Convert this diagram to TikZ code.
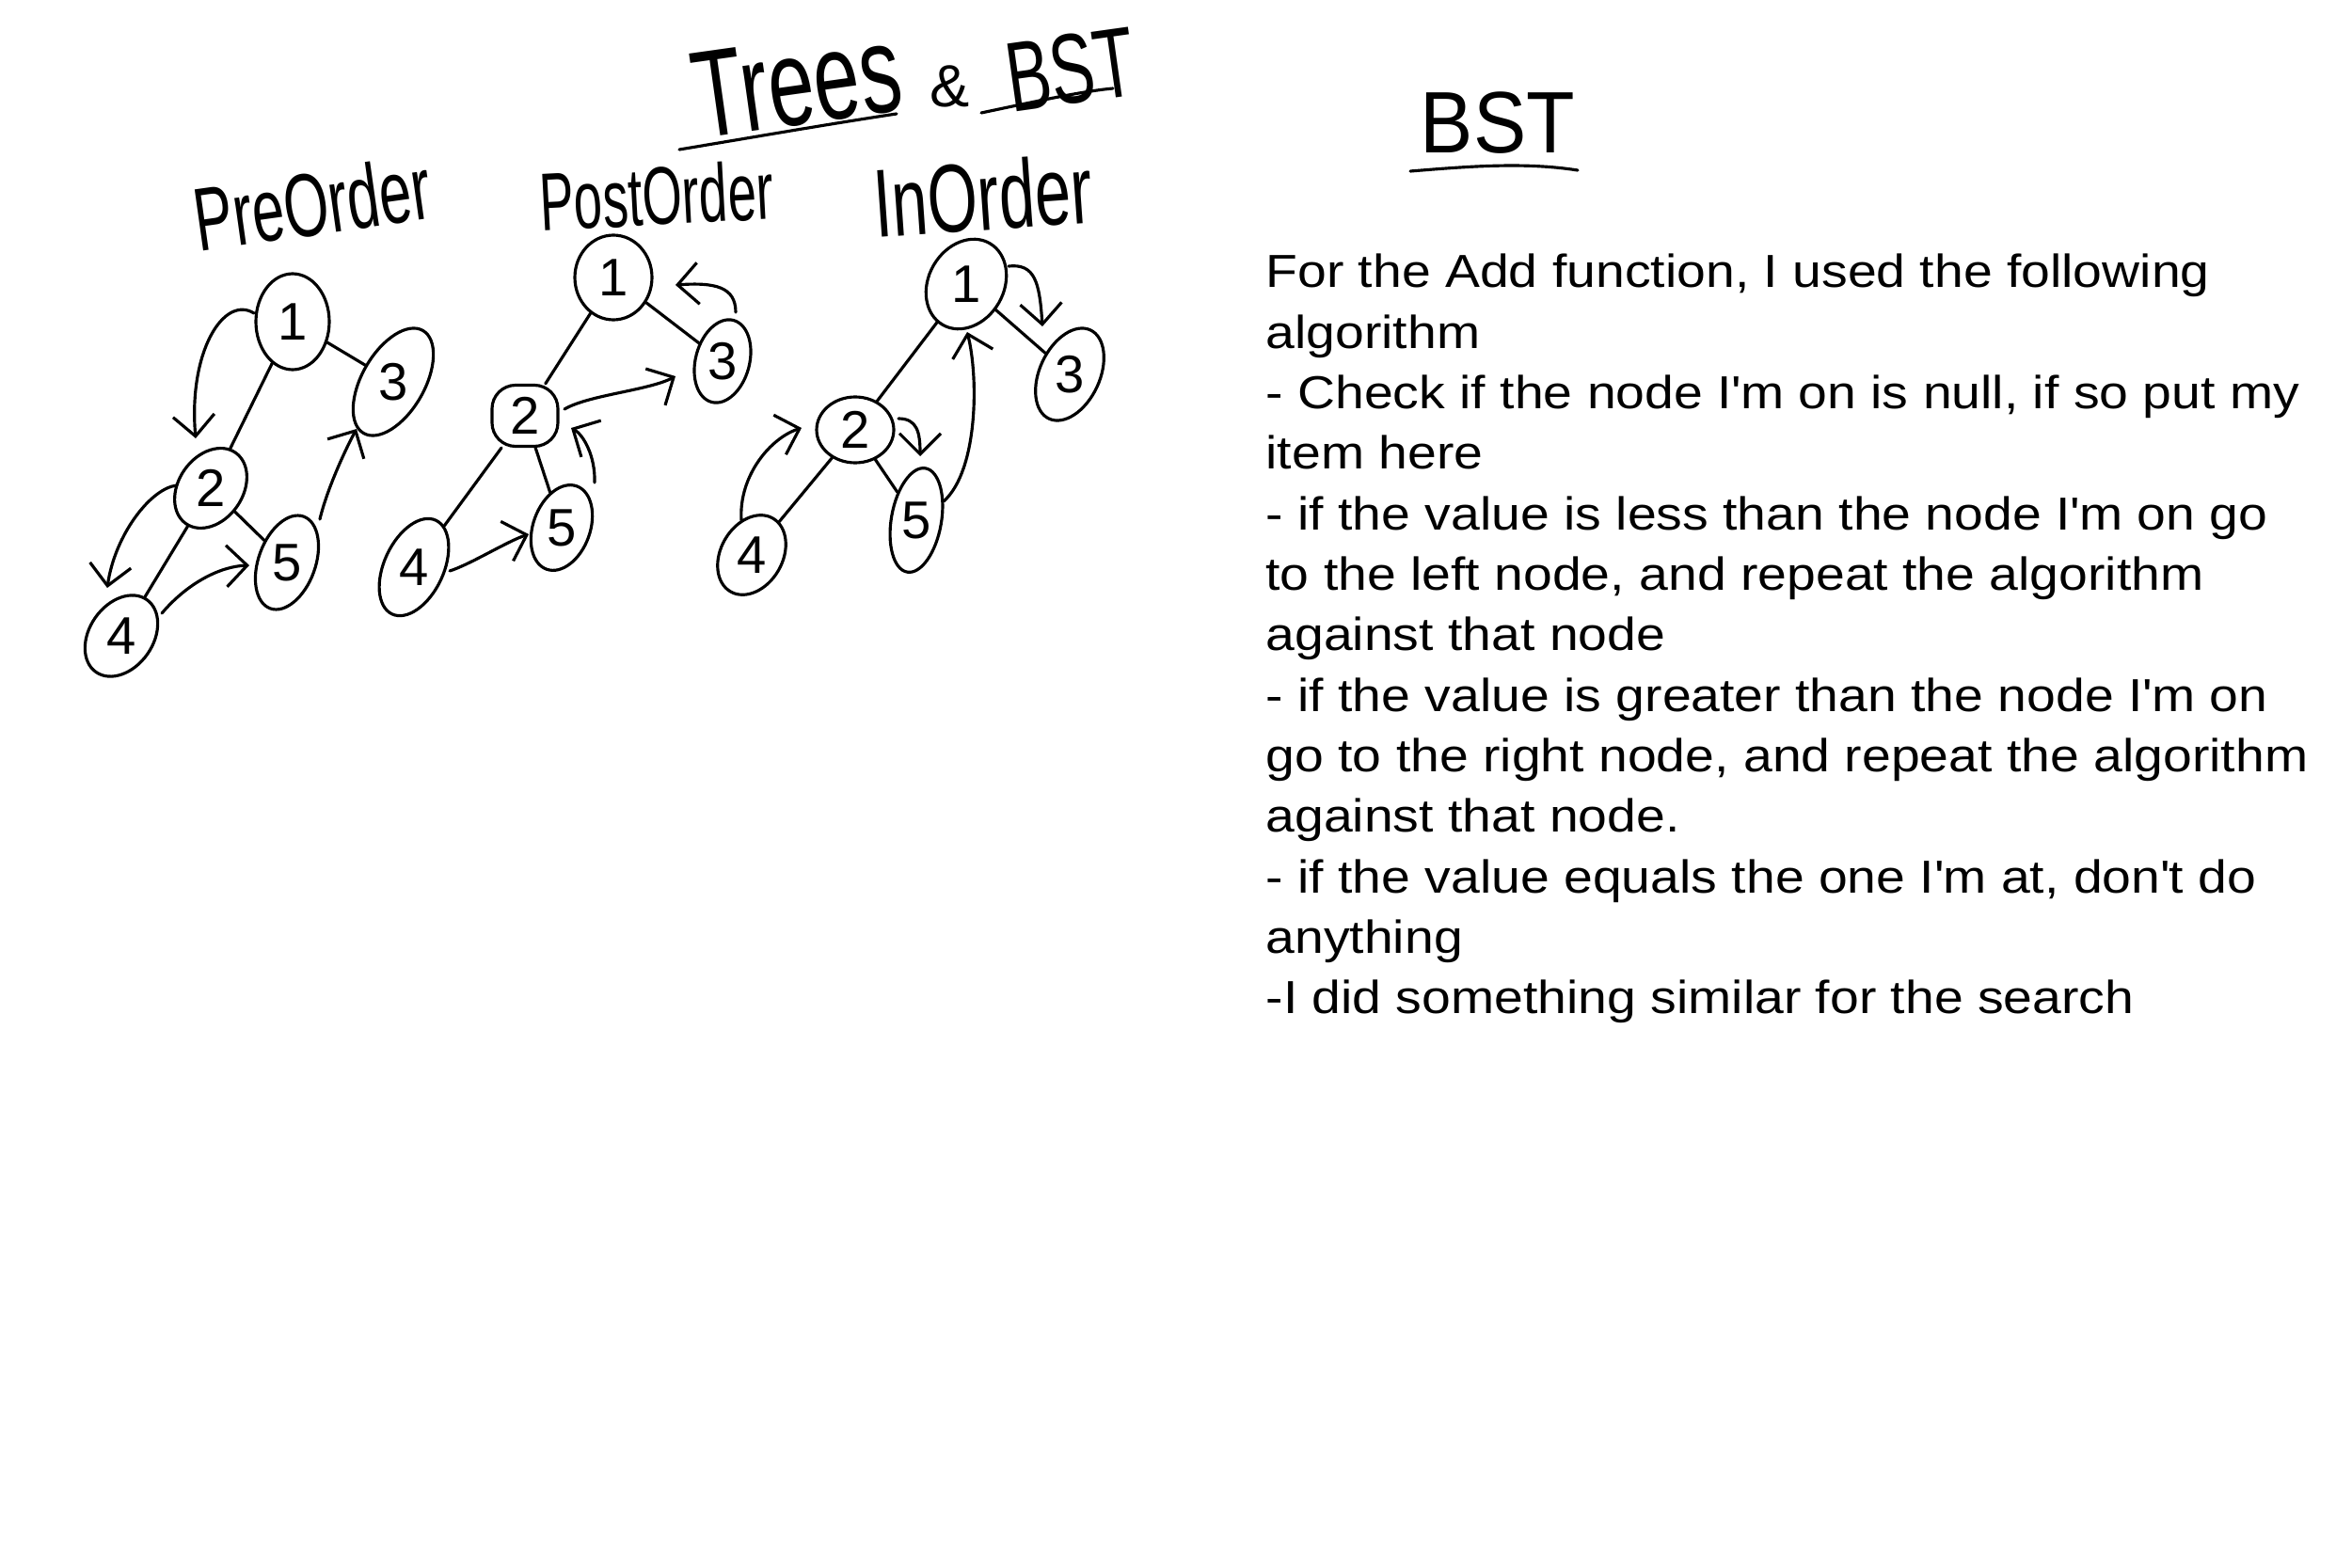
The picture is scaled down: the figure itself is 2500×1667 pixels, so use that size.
\documentclass[tikz,border=0pt]{standalone}
\usepackage{fontspec}
\usepackage{graphicx}
\setmainfont{Liberation Sans}
\newfontfamily\bodyfont[FakeStretch=1.125]{Liberation Sans}
\usetikzlibrary{shapes.geometric,arrows.meta}
\newcommand{\tallbox}[2]{\scalebox{1}[#1]{#2}}
\newcommand{\ap}{\textquotesingle}
\begin{document}
\begin{tikzpicture}[x=0.1mm,y=-0.1mm,line width=0.9pt,line cap=round,line join=round,
  tn/.style={draw,ellipse,inner sep=0pt,font=\fontsize{16}{16}\selectfont},
  tr/.style={draw,rectangle,rounded corners=2.5mm,inner sep=0pt,font=\fontsize{16}{16}\selectfont},
  trav/.style={-{Straight Barb[length=2.2mm,width=4.4mm]}},
  hand/.style={inner sep=0pt},
  txtline/.style={anchor=base west,inner sep=0pt,font=\bodyfont\fontsize{14}{18}\selectfont}]
\fill[white] (0,0) rectangle (2500,1667);
\useasboundingbox (0,0) rectangle (2500,1667);

% titles
\node[hand,rotate=8,font=\fontsize{25}{25}\selectfont] (trees) at (847,88) {\tallbox{1.5}{Trees}};
\node[hand,font=\fontsize{18}{18}\selectfont] (amp) at (1010,92) {\&};
\node[hand,rotate=8,font=\fontsize{20}{20}\selectfont] (bstA) at (1138,74) {\tallbox{1.5}{BST}};
\draw (722,159) .. controls (800,146) and (880,132) .. (953,121);
\draw (1043,120) .. controls (1100,108) and (1150,97) .. (1183,94);
\node[hand,font=\fontsize{24}{24}\selectfont] (bstB) at (1592,131) {\tallbox{1.1}{BST}};
\draw (1499,182) .. controls (1560,177) and (1620,172) .. (1677,181);

\node[hand,rotate=8,font=\fontsize{17.5}{17.5}\selectfont] (pre) at (332,216) {\tallbox{1.55}{PreOrder}};
\node[hand,rotate=3,font=\fontsize{15.5}{15.5}\selectfont] (post) at (698,208) {\tallbox{1.6}{PostOrder}};
\node[hand,rotate=4,font=\fontsize{19.5}{19.5}\selectfont] (inord) at (1045,208) {\tallbox{1.5}{InOrder}};

% PreOrder tree
\node[tn,minimum width=7.8mm,minimum height=10.2mm] (a1) at (311,342) {1};
\node[tn,minimum width=6.2mm,minimum height=12.6mm,rotate=-30] (a3) at (418,406) {\rotatebox{30}{3}};
\node[tn,minimum width=6.4mm,minimum height=9.2mm,rotate=-35] (a2) at (224,519) {\rotatebox{35}{2}};
\node[tn,minimum width=5mm,minimum height=10.4mm,rotate=-20] (a5) at (305,598) {\rotatebox{20}{5}};
\node[tn,minimum width=5.8mm,minimum height=9.4mm,rotate=-35] (a4) at (129,676) {\rotatebox{35}{4}};
\draw (a1) -- (a2);
\draw (a1) -- (a3);
\draw (a2) -- (a4);
\draw (a2) -- (a5);
\coordinate (pa1) at (270,333);
\coordinate (pa2) at (208,466);
\draw[trav] (pa1) .. controls (238,313) and (200,374) .. (pa2);
\coordinate (pb1) at (188,516);
\coordinate (pb2) at (114,625);
\draw[trav] (pb1) .. controls (160,519) and (122,569) .. (pb2);
\coordinate (pc1) at (172,652);
\coordinate (pc2) at (265,601);
\draw[trav] (pc1) .. controls (200,619) and (235,602) .. (pc2);
\coordinate (pd1) at (340,552);
\coordinate (pd2) at (379,456);
\draw[trav] (pd1) .. controls (347,522) and (366,480) .. (pd2);

% PostOrder tree
\node[tn,minimum width=8.2mm,minimum height=9mm] (b1) at (652,295) {1};
\node[tn,minimum width=4.2mm,minimum height=9mm,rotate=-15] (b3) at (768,384) {\rotatebox{15}{3}};
\node[tr,minimum width=7mm,minimum height=6.5mm] (b2) at (558,442) {2};
\node[tn,minimum width=5mm,minimum height=9.4mm,rotate=-20] (b5) at (597,561) {\rotatebox{20}{5}};
\node[tn,minimum width=6mm,minimum height=11mm,rotate=-25] (b4) at (440,603) {\rotatebox{25}{4}};
\draw (b1) -- (b2);
\draw (b1) -- (b3);
\draw (b2) -- (b4);
\draw (b2) -- (b5);
\coordinate (qa1) at (478,607);
\coordinate (qa2) at (562,568);
\draw[trav] (qa1) .. controls (500,600) and (540,575) .. (qa2);
\coordinate (qb1) at (632,513);
\coordinate (qb2) at (607,455);
\draw[trav] (qb1) .. controls (633,485) and (620,462) .. (qb2);
\coordinate (qc1) at (600,435);
\coordinate (qc2) at (718,400);
\draw[trav] (qc1) .. controls (625,420) and (690,415) .. (qc2);
\coordinate (qd1) at (782,332);
\coordinate (qd2) at (718,303);
\draw[trav] (qd1) .. controls (782,305) and (760,300) .. (qd2);

% InOrder tree
\node[tn,minimum width=8mm,minimum height=10mm,rotate=-30] (c1) at (1027,302) {\rotatebox{30}{1}};
\node[tn,minimum width=5.4mm,minimum height=10.4mm,rotate=-25] (c3) at (1137,398) {\rotatebox{25}{3}};
\node[tn,minimum width=8.2mm,minimum height=7mm] (c2) at (909,457) {2};
\node[tn,minimum width=4.8mm,minimum height=11.2mm,rotate=-10] (c5) at (974,553) {\rotatebox{10}{5}};
\node[tn,minimum width=5.6mm,minimum height=9mm,rotate=-30] (c4) at (799,590) {\rotatebox{30}{4}};
\draw (c1) -- (c2);
\draw (c1) -- (c3);
\draw (c2) -- (c4);
\draw (c2) -- (c5);
\coordinate (ra1) at (788,553);
\coordinate (ra2) at (852,455);
\draw[trav] (ra1) .. controls (785,505) and (820,465) .. (ra2);
\coordinate (rb1) at (955,445);
\coordinate (rb2) at (978,485);
\draw[trav] (rb1) .. controls (975,445) and (978,460) .. (rb2);
\coordinate (rc1) at (1003,533);
\coordinate (rc2) at (1028,353);
\draw[trav] (rc1) .. controls (1040,500) and (1040,400) .. (rc2);
\coordinate (rd1) at (1072,283);
\coordinate (rd2) at (1108,347);
\draw[trav] (rd1) .. controls (1100,280) and (1105,300) .. (rd2);

% text block
\node[txtline] (l1) at (1344,306.0) {For the Add function, I used the following};
\node[txtline] (l2) at (1344,370.3) {algorithm};
\node[txtline] (l3) at (1344,434.6) {- Check if the node I\ap m on is null, if so put my};
\node[txtline] (l4) at (1344,498.9) {item here};
\node[txtline] (l5) at (1344,563.2) {- if the value is less than the node I\ap m on go};
\node[txtline] (l6) at (1344,627.5) {to the left node, and repeat the algorithm};
\node[txtline] (l7) at (1344,691.8) {against that node};
\node[txtline] (l8) at (1344,756.1) {- if the value is greater than the node I\ap m on};
\node[txtline] (l9) at (1344,820.4) {go to the right node, and repeat the algorithm};
\node[txtline] (l10) at (1344,884.7) {against that node.};
\node[txtline] (l11) at (1344,949.0) {- if the value equals the one I\ap m at, don\ap t do};
\node[txtline] (l12) at (1344,1013.3) {anything};
\node[txtline] (l13) at (1344,1077.6) {-I did something similar for the search};
\end{tikzpicture}
\end{document}
